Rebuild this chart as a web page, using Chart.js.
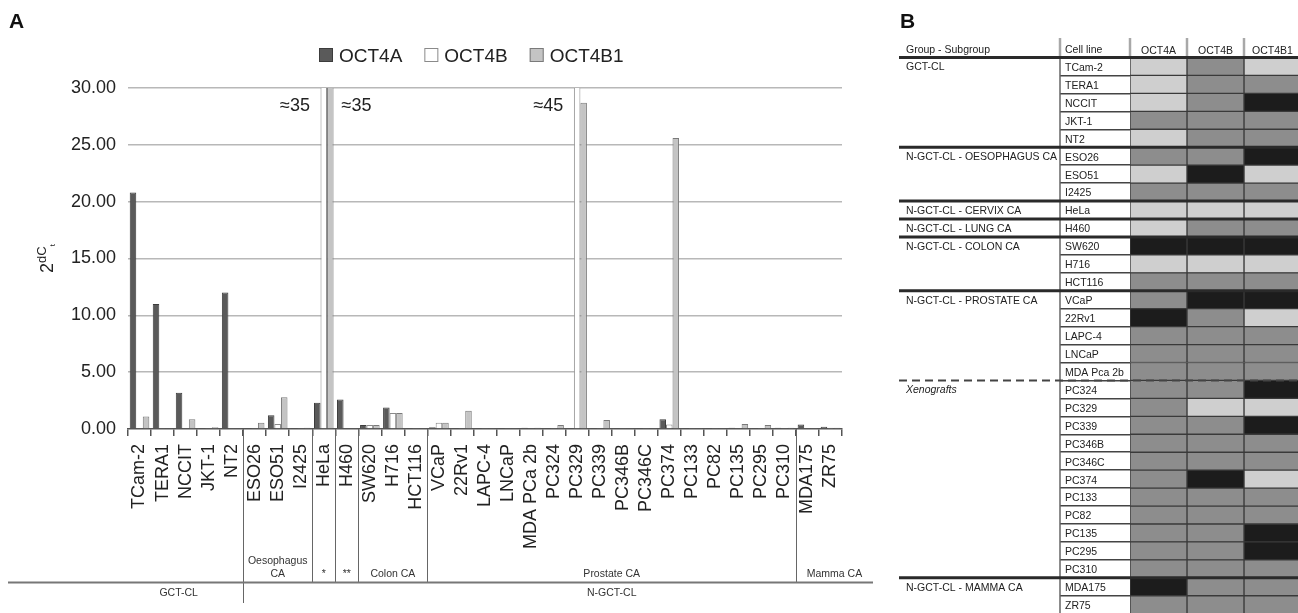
<!DOCTYPE html>
<html>
<head>
<meta charset="utf-8">
<script src="https://cdn.jsdelivr.net/npm/chart.js@4.4.1/dist/chart.umd.min.js"></script>
<style>
  html, body { margin: 0; padding: 0; background: #fff; overflow: hidden; }
  #wrap { position: relative; width: 1298px; height: 613px; overflow: hidden; }
  #chartA { position: absolute; left: 0; top: 0; }
  #chartB { position: absolute; left: 875px; top: 0; }
</style>
</head>
<body>
<div id="wrap">
  <canvas id="chartA" width="880" height="613"></canvas>
  <canvas id="chartB" width="426" height="620"></canvas>
</div>
<script>
const FONT = '"Liberation Sans", Arial, Helvetica, sans-serif';

// ---- panel A data ----
const cellLines = ['TCam-2', 'TERA1', 'NCCIT', 'JKT-1', 'NT2', 'ESO26', 'ESO51', 'I2425', 'HeLa', 'H460',
  'SW620', 'H716', 'HCT116', 'VCaP', '22Rv1', 'LAPC-4', 'LNCaP', 'MDA PCa 2b', 'PC324', 'PC329',
  'PC339', 'PC346B', 'PC346C', 'PC374', 'PC133', 'PC82', 'PC135', 'PC295', 'PC310', 'MDA175', 'ZR75'];
const oct4a = [20.8, 11.0, 3.2, 0.05, 12.0, 0.05, 1.2, 0.05, 2.3, 2.6,
  0.35, 1.9, 0.05, 0.15, 0.05, 0.05, 0.05, 0.1, 0.05, 0.05,
  0.05, 0.05, 0.05, 0.85, 0.05, 0.05, 0.1, 0.05, 0.1, 0.4, 0.2];
const oct4b = [0.05, 0.05, 0.05, 0.05, 0.05, 0.05, 0.45, 0.05, 35, 0.05,
  0.35, 1.4, 0.05, 0.55, 0.05, 0.05, 0.05, 0.05, 0.05, 45,
  0.05, 0.05, 0.05, 0.4, 0.05, 0.05, 0.05, 0.05, 0.05, 0.05, 0.1];
const oct4b1 = [1.1, 0.05, 0.85, 0.15, 0.05, 0.55, 2.8, 0.1, 35, 0.05,
  0.35, 1.4, 0.05, 0.55, 1.6, 0.05, 0.05, 0.1, 0.35, 28.7,
  0.8, 0.05, 0.05, 25.6, 0.05, 0.05, 0.45, 0.35, 0.1, 0.05, 0.1];
const yTicks = [0, 5, 10, 15, 20, 25, 30];

const subgroups = [
  { label: ['Oesophagus', 'CA'], from: 5, to: 7 },
  { label: ['*'], from: 8, to: 8 },
  { label: ['**'], from: 9, to: 9 },
  { label: ['Colon CA'], from: 10, to: 12 },
  { label: ['Prostate CA'], from: 13, to: 28 },
  { label: ['Mamma CA'], from: 29, to: 30 }
];
const groups = [
  { label: 'GCT-CL', from: 0, to: 4, at: 1.7 },
  { label: 'N-GCT-CL', from: 5, to: 30, at: 20.5 }
];
const breaks = [
  { at: 8, text: '≈35', side: 'left' },
  { at: 8, text: '≈35', side: 'right' },
  { at: 19, text: '≈45', side: 'left' }
];

// ---- panel B data ----
const isoforms = ['OCT4A', 'OCT4B', 'OCT4B1'];
const tableLines = ['TCam-2', 'TERA1', 'NCCIT', 'JKT-1', 'NT2', 'ESO26', 'ESO51', 'I2425', 'HeLa', 'H460',
  'SW620', 'H716', 'HCT116', 'VCaP', '22Rv1', 'LAPC-4', 'LNCaP', 'MDA Pca 2b', 'PC324', 'PC329',
  'PC339', 'PC346B', 'PC346C', 'PC374', 'PC133', 'PC82', 'PC135', 'PC295', 'PC310', 'MDA175', 'ZR75'];
const levelA = ['L', 'L', 'L', 'M', 'L', 'M', 'L', 'M', 'L', 'L', 'B', 'L', 'M', 'M', 'B', 'M', 'M', 'M', 'M', 'M',
  'M', 'M', 'M', 'M', 'M', 'M', 'M', 'M', 'M', 'B', 'M'];
const levelB = ['M', 'M', 'M', 'M', 'M', 'M', 'B', 'M', 'L', 'M', 'B', 'L', 'M', 'B', 'M', 'M', 'M', 'M', 'M', 'L',
  'M', 'M', 'M', 'B', 'M', 'M', 'M', 'M', 'M', 'M', 'M'];
const levelB1 = ['L', 'M', 'B', 'M', 'M', 'B', 'L', 'M', 'L', 'M', 'B', 'L', 'M', 'B', 'L', 'M', 'M', 'M', 'B', 'L',
  'B', 'M', 'M', 'L', 'M', 'M', 'B', 'B', 'M', 'M', 'M'];
const tableGroups = [
  { label: 'GCT-CL', from: 0 },
  { label: 'N-GCT-CL - OESOPHAGUS CA', from: 5 },
  { label: 'N-GCT-CL - CERVIX CA', from: 8 },
  { label: 'N-GCT-CL - LUNG CA', from: 9 },
  { label: 'N-GCT-CL - COLON CA', from: 10 },
  { label: 'N-GCT-CL - PROSTATE CA', from: 13 },
  { label: 'Xenografts', from: 18, dashed: true, italic: true },
  { label: 'N-GCT-CL - MAMMA CA', from: 29 }
];
const levelColors = { L: '#cfcfcf', M: '#8d8d8d', B: '#1c1c1c' };

function line(ctx, x1, y1, x2, y2) {
  ctx.beginPath();
  ctx.moveTo(x1, y1);
  ctx.lineTo(x2, y2);
  ctx.stroke();
}

// extra drawing for panel A: letter, axis title, legend, break marks, group bands
const panelAExtras = {
  id: 'panelAExtras',
  afterDraw(chart) {
    const ctx = chart.ctx;
    const x = chart.scales.x;
    const area = chart.chartArea;
    const w = x.width / cellLines.length;
    ctx.save();

    ctx.fillStyle = '#111';
    ctx.font = 'bold 21px ' + FONT;
    ctx.textAlign = 'left';
    ctx.textBaseline = 'alphabetic';
    ctx.fillText('A', 9, 28);

    // y title 2^dCt
    ctx.save();
    ctx.translate(53, 273);
    ctx.rotate(-Math.PI / 2);
    ctx.fillStyle = '#222';
    ctx.font = '18px ' + FONT;
    ctx.fillText('2', 0, 0);
    let adv = ctx.measureText('2').width;
    ctx.font = '13px ' + FONT;
    ctx.fillText('dC', adv, -7);
    adv += ctx.measureText('dC').width;
    ctx.font = '8px ' + FONT;
    ctx.fillText('t', adv, 2);
    ctx.restore();

    // legend
    ctx.font = '19px ' + FONT;
    ctx.textBaseline = 'middle';
    let lx = 319;
    chart.data.datasets.forEach(ds => {
      ctx.fillStyle = ds.backgroundColor;
      ctx.fillRect(lx, 48, 14, 14);
      ctx.strokeStyle = ds.borderColor;
      ctx.lineWidth = 1;
      ctx.strokeRect(lx + 0.5, 48.5, 13, 13);
      ctx.fillStyle = '#222';
      ctx.fillText(ds.label, lx + 20, 57);
      lx += 20 + ctx.measureText(ds.label).width + 22;
    });

    // values above the cut
    ctx.font = '18px ' + FONT;
    ctx.textBaseline = 'alphabetic';
    breaks.forEach(b => {
      const cx = x.getPixelForValue(b.at);
      const half = w * 0.85 / 2;
      if (b.side === 'left') {
        ctx.textAlign = 'right';
        ctx.fillText(b.text, cx - half - 4, 110.5);
      } else {
        ctx.textAlign = 'left';
        ctx.fillText(b.text, cx + half + 8, 110.5);
      }
    });

    // group bands under the axis
    const edge = i => x.getPixelForValue(i) - w / 2;
    const lineY = 582.5;
    const lineEnd = x.right + 31;
    ctx.strokeStyle = '#666';
    ctx.lineWidth = 1;
    subgroups.forEach(g => {
      const xl = Math.round(edge(g.from)) + 0.5;
      line(ctx, xl, area.bottom, xl, lineY);
    });
    const split = Math.round(edge(groups[1].from)) + 0.5;
    line(ctx, split, lineY, split, 603);
    ctx.strokeStyle = '#777';
    ctx.lineWidth = 2;
    line(ctx, 8, lineY, lineEnd, lineY);

    ctx.fillStyle = '#333';
    ctx.font = '10.5px ' + FONT;
    ctx.textAlign = 'center';
    subgroups.forEach(g => {
      const right = g.to === cellLines.length - 1 ? lineEnd : edge(g.to + 1);
      const cx = (edge(g.from) + right) / 2;
      g.label.forEach((t, k) => {
        ctx.fillText(t, cx, 577 - (g.label.length - 1 - k) * 13);
      });
    });
    groups.forEach(g => {
      ctx.fillText(g.label, x.getPixelForValue(g.at), 596);
    });
    ctx.restore();
  }
};

new Chart(document.getElementById('chartA'), {
  type: 'bar',
  data: {
    labels: cellLines,
    datasets: [
      { label: 'OCT4A', data: oct4a, backgroundColor: '#5a5a5a', borderColor: '#3c3c3c' },
      { label: 'OCT4B', data: oct4b, backgroundColor: '#ffffff', borderColor: '#8a8a8a' },
      { label: 'OCT4B1', data: oct4b1, backgroundColor: '#c4c4c4', borderColor: '#7a7a7a' }
    ]
  },
  options: {
    responsive: false,
    animation: false,
    layout: { padding: { left: 0, right: 38, top: 88, bottom: 0 } },
    datasets: {
      bar: {
        borderWidth: 1,
        categoryPercentage: 0.85,
        barPercentage: 1,
        clip: { top: 0, bottom: false, left: false, right: false }
      }
    },
    plugins: { legend: { display: false }, tooltip: { enabled: false } },
    scales: {
      x: {
        afterFit: s => { s.height = 184; },
        grid: { display: true, drawOnChartArea: false, drawTicks: true, tickLength: 7, color: '#555', lineWidth: 1.5, offset: true },
        border: { display: true, color: '#555', width: 1.5 },
        ticks: {
          autoSkip: false, maxRotation: 90, minRotation: 90, padding: 8,
          color: '#222', font: { family: FONT, size: 18 }
        }
      },
      y: {
        min: 0,
        max: 30,
        afterFit: s => { s.width = 128; },
        afterBuildTicks: s => { s.ticks = yTicks.map(v => ({ value: v })); },
        grid: {
          drawTicks: false, lineWidth: 1.5,
          color: c => (c.tick && c.tick.value === 0 ? 'rgba(0,0,0,0)' : '#b8b8b8')
        },
        border: { display: false },
        ticks: {
          padding: 12, color: '#222', font: { family: FONT, size: 18 },
          callback: v => Number(v).toFixed(2)
        }
      }
    }
  },
  plugins: [panelAExtras]
});

// extra drawing for panel B: letter, header, group column and separators
const panelBExtras = {
  id: 'panelBExtras',
  afterDraw(chart) {
    const ctx = chart.ctx;
    const x = chart.scales.x;
    const y = chart.scales.y;
    const area = chart.chartArea;
    const rowH = y.height / tableLines.length;
    const rowTop = i => y.getPixelForValue(i) - rowH / 2;
    ctx.save();

    ctx.fillStyle = '#111';
    ctx.font = 'bold 21px ' + FONT;
    ctx.textAlign = 'left';
    ctx.textBaseline = 'alphabetic';
    ctx.fillText('B', 25, 28);

    ctx.fillStyle = '#222';
    ctx.font = '10.5px ' + FONT;
    ctx.textBaseline = 'middle';
    ctx.fillText('Group - Subgroup', 31, 50);
    ctx.fillText('Cell line', 190, 50);

    ctx.strokeStyle = '#a8a8a8';
    ctx.lineWidth = 2.5;
    [185, x.getPixelForValue(0), x.getPixelForValue(1), x.getPixelForValue(2)].forEach(px => {
      line(ctx, px, 38, px, 56);
    });

    ctx.strokeStyle = '#666';
    ctx.lineWidth = 1.5;
    line(ctx, 185, area.top, 185, area.bottom);

    ctx.strokeStyle = '#2a2a2a';
    ctx.lineWidth = 3;
    line(ctx, 24, area.top, chart.width, area.top);
    tableGroups.forEach(g => {
      if (g.from === 0) return;
      const yy = rowTop(g.from);
      if (g.dashed) {
        ctx.setLineDash([8, 5]);
        ctx.lineWidth = 2;
        ctx.strokeStyle = '#444';
      } else {
        ctx.setLineDash([]);
        ctx.lineWidth = 3;
        ctx.strokeStyle = '#2a2a2a';
      }
      line(ctx, 24, yy, chart.width, yy);
    });
    ctx.setLineDash([]);

    ctx.fillStyle = '#222';
    tableGroups.forEach(g => {
      ctx.font = (g.italic ? 'italic ' : '') + '10.5px ' + FONT;
      ctx.fillText(g.label, 31, y.getPixelForValue(g.from) + 1);
    });
    ctx.restore();
  }
};

const cellSets = [levelA, levelB, levelB1].map((lev, k) => ({
  label: isoforms[k],
  data: lev.map(() => [k, k + 1]),
  backgroundColor: lev.map(l => levelColors[l]),
  borderColor: '#3a3a3a',
  borderWidth: 1,
  borderSkipped: false
}));

new Chart(document.getElementById('chartB'), {
  type: 'bar',
  data: { labels: tableLines, datasets: cellSets },
  options: {
    indexAxis: 'y',
    responsive: false,
    animation: false,
    layout: { padding: { left: 190, right: 0, top: 38, bottom: 4.5 } },
    datasets: { bar: { grouped: false, barPercentage: 1, categoryPercentage: 1 } },
    plugins: { legend: { display: false }, tooltip: { enabled: false } },
    scales: {
      x: { type: 'linear', min: 0, max: 3, display: false },
      x2: {
        type: 'category', axis: 'x', position: 'top', labels: isoforms, offset: true,
        afterFit: s => { s.height = 19.5; },
        grid: { display: false, drawTicks: false },
        border: { display: false },
        ticks: { padding: 0, color: '#222', font: { family: FONT, size: 10.5 } }
      },
      y: {
        position: 'left',
        afterFit: s => { s.width = 65; },
        grid: { display: true, drawOnChartArea: false, tickLength: 70, color: '#444', lineWidth: 1.5, offset: true },
        border: { display: false },
        ticks: { crossAlign: 'far', padding: 0, labelOffset: 1.5, color: '#222', font: { family: FONT, size: 10.5 } }
      }
    }
  },
  plugins: [panelBExtras]
});
</script>
</body>
</html>
